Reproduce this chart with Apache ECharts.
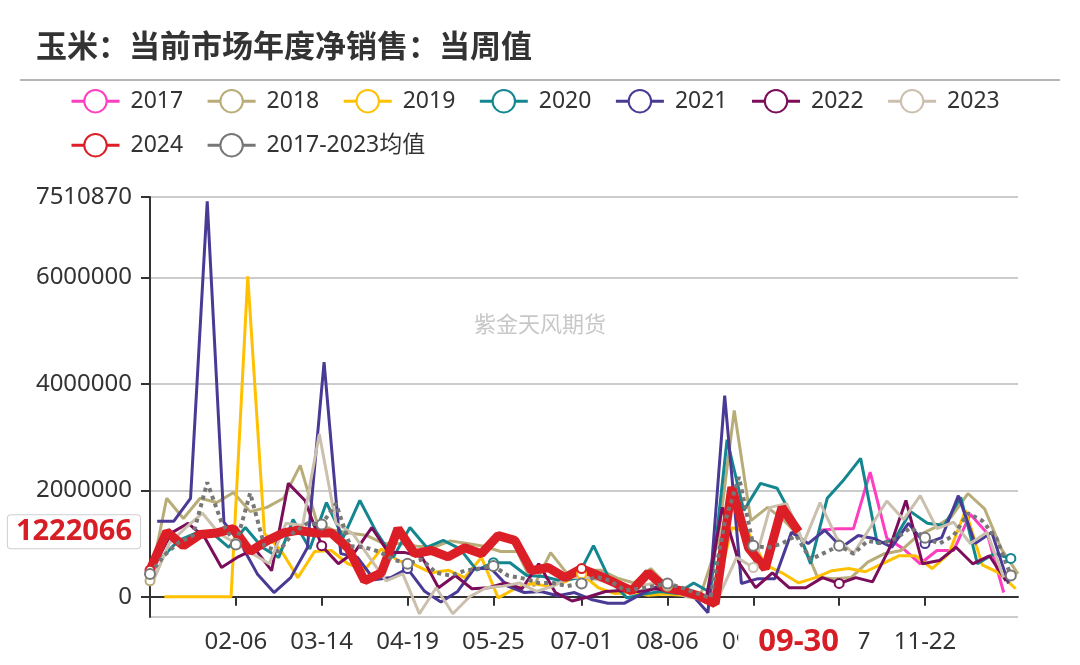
<!DOCTYPE html>
<html>
<head>
<meta charset="utf-8">
<style>html,body{margin:0;padding:0;background:#fff;}#main{width:1080px;height:665px;}</style>
<script src="https://cdn.jsdelivr.net/npm/echarts/dist/echarts.min.js"></script>
</head>
<body>
<div id="main"></div>
<script>
// ---------------- DATA ----------------
const titleText = '玉米：当前市场年度净销售：当周值';
const watermark = '紫金天风期货';
const seriesNames = ['2017','2018','2019','2020','2021','2022','2023','2024','2017-2023均值'];
const seriesColors = ['#ff3ebf','#b8ac78','#ffc000','#13868f','#4a3a95','#7b0d5b','#cbbfad','#dc1f26','#777777'];

// tick labels shown on the x axis (MM-DD); '01-01' and '12-28' are label slots without text
const tickLabels = ['02-06','03-14','04-19','05-25','07-01','08-06','09-11','10-17','11-22'];
const labelSlots = ['01-01','02-06','03-14','04-19','05-25','07-01','08-06','09-11','10-17','11-22','12-28'];

// first weekly date (Monday) of each yearly series
const start2017 = '2017-10-09';
const start2018 = '2018-01-01';
const start2019 = '2019-01-07';
const start2020 = '2020-01-06';
const start2021 = '2021-01-04';
const start2022 = '2022-01-03';
const start2023 = '2023-01-02';
const start2024 = '2024-01-01';

const v2017 = [1250000,1280000,1280000,2340000,1100000,900000,620000,870000,870000,1550000,1200000,80000];
const v2018 = [300000,1850000,1470000,1850000,1770000,1960000,1600000,1680000,1850000,2470000,1400000,1250000,1200000,1150000,1000000,1000000,950000,930000,1050000,1000000,950000,850000,850000,200000,830000,430000,500000,500000,350000,260000,530000,200000,150000,50000,1000000,3500000,1430000,1680000,1430000,1100000,360000,340000,360000,650000,810000,870000,1150000,1300000,1500000,1940000,1650000,900000,430000];
const v2019 = [0,0,0,0,0,6020000,1190000,870000,360000,850000,870000,620000,500000,900000,680000,600000,450000,500000,360000,740000,-20000,150000,250000,200000,280000,430000,170000,60000,80000,30000,50000,30000,0,0,1300000,1200000,600000,450000,260000,360000,490000,530000,470000,620000,770000,770000,530000,810000,1620000,600000,450000,150000];
const v2020 = [740000,1060000,1190000,1200000,930000,1300000,930000,740000,1450000,900000,1770000,1110000,1810000,1210000,740000,1300000,930000,1060000,900000,500000,640000,640000,400000,380000,300000,350000,960000,300000,-20000,50000,100000,60000,260000,80000,2950000,1620000,2130000,2040000,1450000,620000,1850000,2200000,2600000,1000000,1060000,1600000,1380000,1340000,1870000,620000,810000,720000];
const v2021 = [1420000,1420000,1850000,7430000,1400000,1000000,430000,80000,360000,920000,4410000,810000,740000,320000,360000,530000,110000,-100000,100000,530000,530000,200000,80000,100000,20000,80000,-50000,-120000,-120000,50000,200000,150000,50000,-300000,3780000,250000,340000,340000,1210000,1000000,1250000,930000,1150000,1090000,930000,1380000,1000000,1110000,1900000,1000000,1210000,250000];
const v2022 = [600000,1200000,1380000,1110000,550000,750000,900000,490000,2130000,1810000,960000,620000,850000,1300000,830000,830000,750000,170000,400000,150000,170000,260000,150000,620000,80000,-80000,0,100000,120000,100000,150000,100000,50000,-100000,1680000,640000,170000,450000,170000,170000,360000,250000,360000,280000,900000,1810000,620000,680000,930000,620000,770000,300000];
const v2023 = [260000,1000000,1300000,1570000,1190000,1000000,810000,620000,1380000,1340000,3060000,1380000,1190000,740000,300000,430000,-320000,170000,-320000,0,170000,200000,260000,100000,200000,360000,360000,300000,200000,200000,250000,150000,0,-50000,50000,740000,550000,1680000,1750000,1000000,1770000,1100000,810000,1300000,1800000,1450000,1900000,1280000,1400000,1000000,1210000,360000];
const v2024 = [500000,1220000,960000,1170000,1200000,1280000,850000,1050000,1200000,1250000,1200000,1200000,920000,300000,450000,1280000,810000,870000,750000,920000,810000,1150000,1060000,490000,550000,360000,530000,400000,260000,110000,450000,170000,110000,20000,-130000,2060000,920000,530000,1680000,1222066];
// 2017-2023 mean, read at six points per label interval
const vAvg = [430000,780000,1020000,1150000,2150000,1400000,980000,1950000,950000,850000,1200000,1380000,1360000,1750000,950000,930000,850000,700000,620000,700000,450000,400000,490000,530000,580000,400000,350000,260000,260000,200000,250000,380000,300000,120000,150000,200000,250000,170000,70000,-20000,1400000,2250000,960000,920000,1000000,1150000,700000,830000,960000,810000,1050000,1000000,1100000,1300000,1110000,1000000,1150000,1570000,1430000,1100000,400000];

const yMin = -380000;
const yMax = 7510870;

// ---------------- BUILD ----------------
function pad(n){return (n<10?'0':'')+n;}
function mmdd(d){return pad(d.getUTCMonth()+1)+'-'+pad(d.getUTCDate());}
const categories = [];
for (let d = new Date(Date.UTC(2023,0,1)); d.getUTCFullYear() === 2023; d.setUTCDate(d.getUTCDate()+1)) {
  categories.push(mmdd(d));
}
function weekly(start, values){
  const p = start.split('-').map(Number);
  return values.map((v,i)=>[mmdd(new Date(Date.UTC(p[0],p[1]-1,p[2]+7*i))), v]);
}
// dates for the mean series: six steps inside each label interval
const avgDates = [];
for (let i=0;i<labelSlots.length-1;i++){
  const a = categories.indexOf(labelSlots[i]), b = categories.indexOf(labelSlots[i+1]);
  for (let j=0;j<6;j++) avgDates.push(categories[a+Math.round(j*(b-a)/6)]);
}
avgDates.push(labelSlots[labelSlots.length-1]);

const yearly = [
  weekly(start2017,v2017), weekly(start2018,v2018), weekly(start2019,v2019), weekly(start2020,v2020),
  weekly(start2021,v2021), weekly(start2022,v2022), weekly(start2023,v2023), weekly(start2024,v2024)
];
const avgData = avgDates.map((d,i)=>[d, vAvg[i]]);
const last2024 = yearly[7][yearly[7].length-1];

const FONT = '"Noto Sans", "Noto Sans CJK SC", sans-serif';
const series = seriesNames.map((name, i) => {
  const isAvg = i === 8, isRed = i === 7;
  return {
    name: name,
    type: 'line',
    data: isAvg ? avgData : yearly[i],
    symbol: 'emptyCircle',
    symbolSize: isAvg ? 10 : 9,
    showAllSymbol: 'auto',
    color: seriesColors[i],
    lineStyle: { color: seriesColors[i], width: isRed ? 9 : (isAvg ? 4 : 3), type: isAvg ? 'dotted' : 'solid' },
    itemStyle: { color: seriesColors[i], borderWidth: 2 },
    emphasis: { disabled: true },
    animation: false
  };
});

const legendBase = {
  left: 70, padding: 0, itemWidth: 48, itemHeight: 28, itemGap: 23,
  textStyle: { fontSize: 23, color: '#333', fontFamily: FONT },
  formatter: n => ' ' + n,
  lineStyle: { width: 3, type: 'solid' },
  selectedMode: false
};

const option = {
  animation: false,
  backgroundColor: '#fff',
  textStyle: { fontFamily: FONT },
  title: {
    text: titleText, left: 36, top: 30, padding: 0,
    textStyle: { fontSize: 31, fontWeight: 'bold', color: '#333', fontFamily: '"Noto Sans CJK SC", sans-serif' }
  },
  legend: [
    Object.assign({}, legendBase, { top: 89, data: seriesNames.slice(0,7) }),
    Object.assign({}, legendBase, { top: 133, data: seriesNames.slice(7) })
  ],
  grid: { left: 150, right: 62, top: 197, bottom: 48, containLabel: false, outerBoundsMode: 'none' },
  xAxis: {
    type: 'category', data: categories, boundaryGap: false,
    axisLine: { onZero: false, lineStyle: { color: '#333', width: 2 } },
    axisTick: { interval: (i, v) => tickLabels.indexOf(v) >= 0, length: 9, lineStyle: { color: '#333', width: 2 } },
    axisLabel: {
      interval: (i, v) => labelSlots.indexOf(v) >= 0,
      formatter: v => tickLabels.indexOf(v) >= 0 ? v : '',
      fontSize: 24, color: '#333', margin: 33
    },
    splitLine: { show: false },
    axisPointer: {
      show: true, status: 'show', value: categories.indexOf(last2024[0]), triggerTooltip: false,
      type: 'line', lineStyle: { opacity: 0 },
      label: { show: true, margin: 30, backgroundColor: '#fff', color: '#d71d25', fontWeight: 'bold', fontSize: 31, padding: [0, 20], fontFamily: FONT }
    }
  },
  yAxis: {
    type: 'value', min: yMin, max: yMax,
    axisLine: { show: true, lineStyle: { color: '#333', width: 2 } },
    axisTick: { show: true, length: 9, lineStyle: { color: '#333', width: 2 } },
    axisLabel: { fontSize: 24, color: '#333', margin: 18, showMinLabel: false, showMaxLabel: true, formatter: v => String(v) },
    splitLine: { lineStyle: { color: '#cccccc', width: 2 } },
    axisPointer: {
      show: true, status: 'show', value: last2024[1], triggerTooltip: false,
      type: 'line', lineStyle: { opacity: 0 },
      label: {
        show: true, margin: 10, backgroundColor: '#fff', borderColor: '#cfcfcf', borderWidth: 1,
        color: '#d71d25', fontWeight: 'bold', fontSize: 29, padding: [2, 8], fontFamily: FONT,
        formatter: p => String(Math.round(p.value))
      }
    }
  },
  graphic: [
    { type: 'line', shape: { x1: 20, y1: 80, x2: 1060, y2: 80 }, style: { stroke: '#b5b5b5', lineWidth: 2 }, silent: true },
    { type: 'text', left: 'center', top: 313, style: { text: watermark, fontSize: 22, fill: '#c8c8c8', fontFamily: '"Noto Sans CJK SC", sans-serif' }, silent: true, z: 0 }
  ],
  series: series
};

const chart = echarts.init(document.getElementById('main'), null, { renderer: 'canvas' });
chart.setOption(option);
// put the category axis line on the value 0 of the y axis (via the library's own scale)
const yZeroPx = chart.convertToPixel({ yAxisIndex: 0 }, 0);
const yMinPx = chart.convertToPixel({ yAxisIndex: 0 }, yMin);
chart.setOption({ xAxis: { offset: yZeroPx - yMinPx } });
</script>
</body>
</html>
